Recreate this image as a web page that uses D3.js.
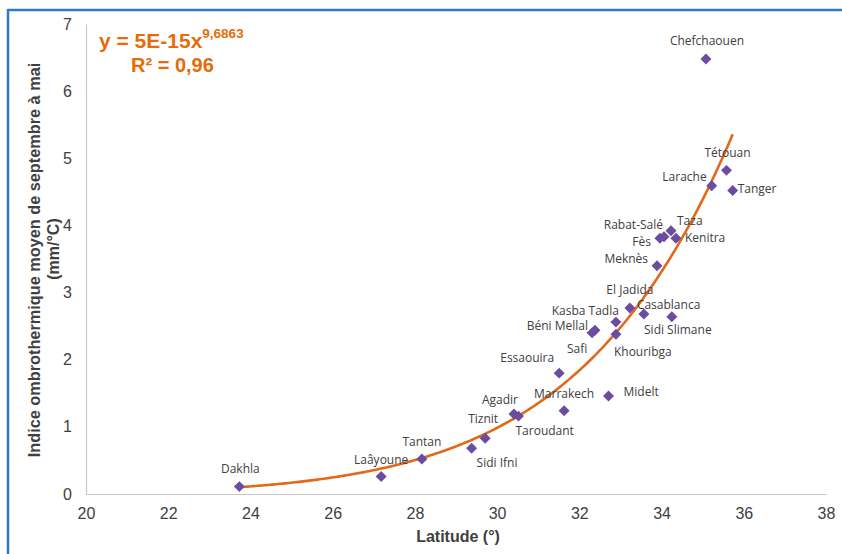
<!DOCTYPE html>
<html><head><meta charset="utf-8">
<script src="https://cdn.jsdelivr.net/npm/d3@7"></script>
<style>html,body{margin:0;padding:0;background:#fff;}svg{display:block;}</style>
</head><body>
<svg id="c" width="842" height="554"></svg>
<script>
// ---- data ----
const stations = ["Dakhla","Laâyoune","Tantan","Sidi Ifni","Tiznit","Agadir","Taroudant","Marrakech","Midelt","Essaouira","Safi","Béni Mellal","Kasba Tadla","Khouribga","El Jadida","Casablanca","Sidi Slimane","Meknès","Fès","Rabat-Salé","Taza","Kenitra","Larache","Tétouan","Tanger","Chefchaouen"];
const latitudes = [23.73,27.18,28.17,29.38,29.71,30.41,30.52,31.63,32.71,31.51,32.31,32.38,32.89,32.89,33.23,33.57,34.25,33.89,33.96,34.06,34.23,34.35,35.22,35.58,35.73,35.08];
const indices   = [0.11,0.26,0.52,0.68,0.83,1.19,1.16,1.24,1.46,1.80,2.40,2.44,2.56,2.38,2.77,2.68,2.64,3.40,3.81,3.83,3.92,3.81,4.59,4.82,4.52,6.48];
const xTicks = [20,22,24,26,28,30,32,34,36,38];
const yTicks = [0,1,2,3,4,5,6,7];
const trendA = 4.85e-15, trendB = 9.6863;   // displayed as y = 5E-15x^9,6863
const trendRange = [23.73, 35.75];
const eqText = "y = 5E-15x", eqExp = "9,6863", r2Text = "R² = 0,96";
const xTitle = "Latitude (°)";
const yTitle1 = "Indice ombrothermique moyen de septembre à mai", yTitle2 = "(mm/°C)";

// ---- label placement (layout only) ----
const place = {
 "Dakhla":[1,-18,"middle"],"Laâyoune":[0,-17,"middle"],"Tantan":[0,-17,"middle"],
 "Sidi Ifni":[5,14,"start"],"Tiznit":[-2,-19,"middle"],"Agadir":[-14,-14,"middle"],
 "Taroudant":[-3,15,"start"],"Marrakech":[0,-17,"middle"],"Midelt":[15,-4,"start"],
 "Essaouira":[-5,-15,"end"],"Safi":[-15,16,"middle"],"Béni Mellal":[-7,-4,"end"],
 "Kasba Tadla":[3,-11,"end"],"Khouribga":[-2,18,"start"],"El Jadida":[0,-18,"middle"],
 "Casablanca":[-7,-9,"start"],"Sidi Slimane":[6,13,"middle"],"Meknès":[-9,-7,"end"],
 "Fès":[-9,4,"end"],"Rabat-Salé":[-1,-12,"end"],"Taza":[6,-10,"start"],
 "Kenitra":[9,0,"start"],"Larache":[-5,-9,"end"],"Tétouan":[1,-18,"middle"],
 "Tanger":[5,-2,"start"],"Chefchaouen":[1,-18,"middle"]
};

const svg = d3.select("#c");
const x = d3.scaleLinear().domain([20,38]).range([86,826]);
const y = d3.scaleLinear().domain([0,7]).range([494,24]);

// frame
svg.append("line").attr("x1",8).attr("x2",842).attr("y1",10).attr("y2",10).attr("stroke","#2E7BC4").attr("stroke-width",2.5);
svg.append("line").attr("x1",8).attr("x2",8).attr("y1",9).attr("y2",554).attr("stroke","#2E7BC4").attr("stroke-width",2.5);

// axes
const gx = svg.append("g").attr("transform","translate(0,494)")
  .call(d3.axisBottom(x).tickValues(xTicks).tickSize(0).tickPadding(14).tickFormat(d3.format("d")));
const gy = svg.append("g").attr("transform","translate(86,0)")
  .call(d3.axisLeft(y).tickValues(yTicks).tickSize(0).tickPadding(14).tickFormat(d3.format("d")));
[gx,gy].forEach(g=>{
  g.select(".domain").attr("stroke","#C8C8C8").attr("stroke-width",1.2);
  g.selectAll("text").attr("font-family","'Liberation Sans',Arial,sans-serif").attr("font-size",16).attr("fill","#404040");
});

// titles
svg.append("text").attr("x",458).attr("y",542).attr("text-anchor","middle")
  .attr("font-family","'Liberation Sans',Arial,sans-serif").attr("font-weight","bold").attr("font-size",16).attr("fill","#404040").text(xTitle);
svg.append("text").attr("transform","translate(40,260) rotate(-90)").attr("text-anchor","middle")
  .attr("font-family","'Liberation Sans',Arial,sans-serif").attr("font-weight","bold").attr("font-size",16.3).attr("fill","#404040").text(yTitle1);
svg.append("text").attr("transform","translate(59,249) rotate(-90)").attr("text-anchor","middle")
  .attr("font-family","'Liberation Sans',Arial,sans-serif").attr("font-weight","bold").attr("font-size",16).attr("fill","#404040").text(yTitle2);

// trendline
const tx = d3.range(trendRange[0], trendRange[1]+0.001, 0.05);
svg.append("path").datum(tx)
  .attr("d", d3.line().x(d=>x(d)).y(d=>y(trendA*Math.pow(d,trendB))))
  .attr("fill","none").attr("stroke","#E2691A").attr("stroke-width",2.6);

// points
const pts = stations.map((s,i)=>({name:s, lat:latitudes[i], v:indices[i]}));
svg.append("g").selectAll("path").data(pts).join("path")
  .attr("transform",d=>`translate(${x(d.lat)},${y(d.v)}) rotate(45)`)
  .attr("d", d3.symbol(d3.symbolSquare, 60))
  .attr("fill","#6A4DA0");

// labels
svg.append("g").selectAll("text").data(pts).join("text")
  .attr("x",d=>x(d.lat)+place[d.name][0])
  .attr("y",d=>y(d.v)+place[d.name][1])
  .attr("dy","0.35em")
  .attr("text-anchor",d=>place[d.name][2])
  .attr("font-family","'Open Sans',sans-serif").attr("font-size",12).attr("fill","#404040")
  .text(d=>d.name);

// equation
const eq = svg.append("text").attr("x",99).attr("y",48)
  .attr("font-family","'Liberation Sans',Arial,sans-serif").attr("font-weight","bold").attr("fill","#E46C0A").attr("font-size",21);
eq.append("tspan").text(eqText);
eq.append("tspan").attr("font-size",13.5).attr("dy",-10).text(eqExp);
svg.append("text").attr("x",131).attr("y",72)
  .attr("font-family","'Liberation Sans',Arial,sans-serif").attr("font-weight","bold").attr("fill","#E46C0A").attr("font-size",20).text(r2Text);
</script>
</body></html>
